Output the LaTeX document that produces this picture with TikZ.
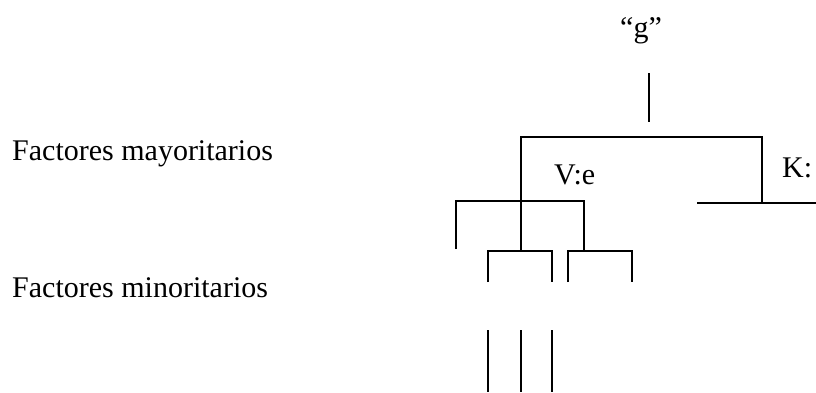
\documentclass[tikz,border=0pt]{standalone}
\usepackage{fontspec}
\setmainfont{Liberation Serif}
\begin{document}
\begin{tikzpicture}[x=1pt,y=-1pt,
  lbl/.style={inner sep=0pt,anchor=base west,font=\fontsize{30}{34}\selectfont},
  ln/.style={line width=2pt,line cap=butt,line join=miter}]
\useasboundingbox (0,0) rectangle (816,392);
% labels
\node[lbl] (may) at (12,160) {Factores mayoritarios};
\node[lbl] (min) at (12,297) {Factores minoritarios};
\node[lbl,anchor=base] (g) at (641,37) {“g”};
\node[lbl] (ve) at (554,184) {V:e};
\node[lbl] (k) at (782,177) {K:};
% junction coordinates
\coordinate (gt) at (649,73);
\coordinate (gb) at (649,122);
\coordinate (mL) at (521,137);
\coordinate (mR) at (762,137);
\coordinate (mRb) at (762,203);
\coordinate (kL) at (697,203);
\coordinate (kR) at (816,203);
\coordinate (mLb) at (521,251);
\coordinate (sL) at (456,201);
\coordinate (sR) at (584,201);
\coordinate (sLb) at (456,249);
\coordinate (sRb) at (584,251);
\coordinate (b2L) at (488,251);
\coordinate (b2R) at (552,251);
\coordinate (b3L) at (568,251);
\coordinate (b3R) at (632,251);
% tree
\draw[ln] (gt) -- (gb);
\draw[ln] (mLb) -- (mL) -- (mR) -- (mRb);
\draw[ln] (kL) -- (kR);
\draw[ln] (sLb) -- (sL) -- (sR) -- (sRb);
\draw[ln] (b2L |- 0,282) -- (b2L) -- (b2R) -- (b2R |- 0,282);
\draw[ln] (b3L |- 0,282) -- (b3L) -- (b3R) -- (b3R |- 0,282);
% bottom stems
\coordinate (s1t) at (488,330); \coordinate (s1b) at (488,392);
\coordinate (s2t) at (521,330); \coordinate (s2b) at (521,392);
\coordinate (s3t) at (552,330); \coordinate (s3b) at (552,392);
\draw[ln] (s1t) -- (s1b);
\draw[ln] (s2t) -- (s2b);
\draw[ln] (s3t) -- (s3b);
\end{tikzpicture}
\end{document}
